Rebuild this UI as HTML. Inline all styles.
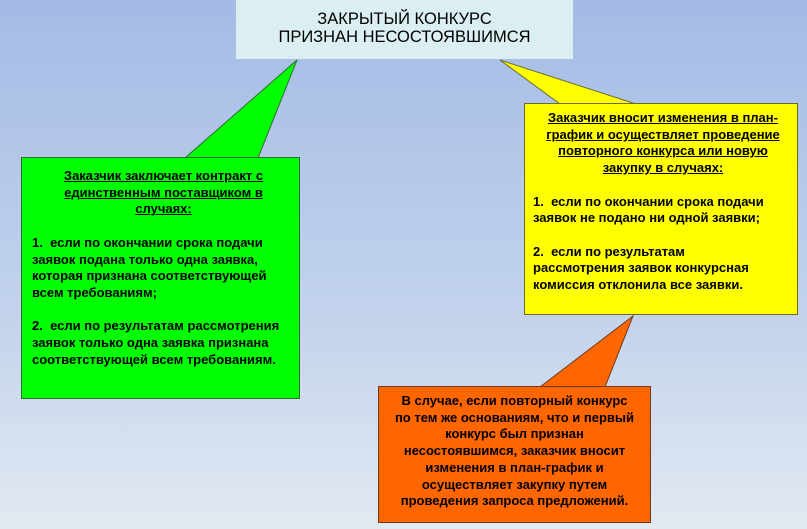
<!DOCTYPE html>
<html><head><meta charset="utf-8"><style>
html,body{margin:0;padding:0}
body{width:807px;height:529px;position:relative;overflow:hidden;background:linear-gradient(#a3bbe5,#c3d3ec 60%,#e2e9f1);font-family:"Liberation Sans",Arial,sans-serif}
.b{position:absolute;box-sizing:border-box;font-weight:bold;font-size:13px;line-height:16.7px;color:#000;white-space:nowrap}
svg{position:absolute;left:0;top:0}
u{text-decoration:underline}
</style></head><body>
<svg width="807" height="529">
<polygon points="297,60 185,158 258,158" fill="#00ff00" stroke="#2f6b2f" stroke-width="1"/>
<polygon points="500,60 560,104 636,104" fill="#ffff00" stroke="#6b6b2f" stroke-width="1"/>
<polygon points="633,316 540,387 605,387" fill="#ff6600" stroke="#6b3a1f" stroke-width="1"/>
</svg>
<div class="b" style="left:236px;top:0;width:337px;height:59px;background:#dbeef2;font-weight:normal;font-size:16.5px;line-height:18px;text-align:center;padding-top:10px">ЗАКРЫТЫЙ КОНКУРС<br>ПРИЗНАН НЕСОСТОЯВШИМСЯ</div>
<div class="b" style="left:21px;top:157px;width:279px;height:242px;background:#00ff00;border:1px solid #2f6b2f;padding:10px 4px 0 10px">
<div style="text-align:center"><u>Заказчик заключает контракт с</u><br><u>единственным поставщиком в</u><br><u>случаях:</u></div><br>
<div>1.&nbsp; если по окончании срока подачи<br>заявок подана только одна заявка,<br>которая признана соответствующей<br>всем требованиям;</div><br>
<div>2.&nbsp; если по результатам рассмотрения<br>заявок только одна заявка признана<br>соответствующей всем требованиям.</div>
</div>
<div class="b" style="left:524px;top:103px;width:274px;height:212px;background:#ffff00;border:1px solid #6b6b2f;padding:6px 4px 0 8px">
<div style="text-align:center"><u>Заказчик вносит изменения в план-</u><br><u>график и осуществляет проведение</u><br><u>повторного конкурса или новую</u><br><u>закупку в случаях:</u></div><br>
<div>1.&nbsp; если по окончании срока подачи<br>заявок не подано ни одной заявки;</div><br>
<div>2.&nbsp; если по результатам<br>рассмотрения заявок конкурсная<br>комиссия отклонила все заявки.</div>
</div>
<div class="b" style="left:378px;top:386px;width:273px;height:137px;background:#ff6600;border:1px solid #6b3a1f;padding:6px 2px 0;text-align:center">В случае, если повторный конкурс<br>по тем же основаниям, что и первый<br>конкурс был признан<br>несостоявшимся, заказчик вносит<br>изменения в план-график и<br>осуществляет закупку путем<br>проведения запроса предложений.</div>
</body></html>
